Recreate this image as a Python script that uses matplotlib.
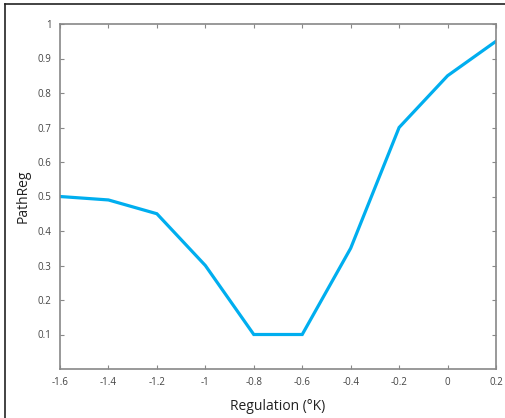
import matplotlib
matplotlib.use("Agg")
import matplotlib.pyplot as plt
from matplotlib.lines import Line2D

regulation = [-1.6, -1.4, -1.2, -1.0, -0.8, -0.6, -0.4, -0.2, 0.0, 0.2]
pathreg = [0.5, 0.49, 0.45, 0.3, 0.1, 0.1, 0.35, 0.7, 0.85, 0.95]
xticks = [-1.6, -1.4, -1.2, -1.0, -0.8, -0.6, -0.4, -0.2, 0.0, 0.2]
xtick_labels = ["-1.6", "-1.4", "-1.2", "-1", "-0.8", "-0.6", "-0.4", "-0.2", "0", "0.2"]
yticks = [0.1, 0.2, 0.3, 0.4, 0.5, 0.6, 0.7, 0.8, 0.9, 1.0]
ytick_labels = ["0.1", "0.2", "0.3", "0.4", "0.5", "0.6", "0.7", "0.8", "0.9", "1"]

plt.rcParams['font.family'] = ['Open Sans', 'DejaVu Sans']

W, H = 505, 418
fig = plt.figure(figsize=(W / 100, H / 100), dpi=100)
ax = fig.add_axes([60 / W, 1 - 369 / H, (496 - 60) / W, (369 - 24) / H])

ax.plot(regulation, pathreg, color="#00AEEF", linewidth=2.3, solid_joinstyle="miter")
ax.set_xlim(-1.6, 0.2)
ax.set_ylim(0, 1)
ax.set_xticks(xticks)
ax.set_xticklabels(xtick_labels)
ax.set_yticks(yticks)
ax.set_yticklabels(ytick_labels)
ax.tick_params(direction="in", length=3, width=0.8, color="#888888",
               labelsize=7, labelcolor="#444444", top=True, right=True, pad=6)
for s in ax.spines.values():
    s.set_color("#888888")
    s.set_linewidth(1.2)

ax.set_xlabel("Regulation (°K)", fontsize=10, color="#222222", labelpad=8)
ax.set_ylabel("PathReg", fontsize=10, color="#222222", labelpad=5)

# figure frame (top and left edges visible)
fig.add_artist(Line2D([5 / W, 1.0], [1 - 4 / H, 1 - 4 / H], transform=fig.transFigure,
                      color="#222222", linewidth=1.2))
fig.add_artist(Line2D([5 / W, 5 / W], [0, 1 - 4 / H], transform=fig.transFigure,
                      color="#222222", linewidth=1.2))

fig.savefig("out.png", dpi=100)
